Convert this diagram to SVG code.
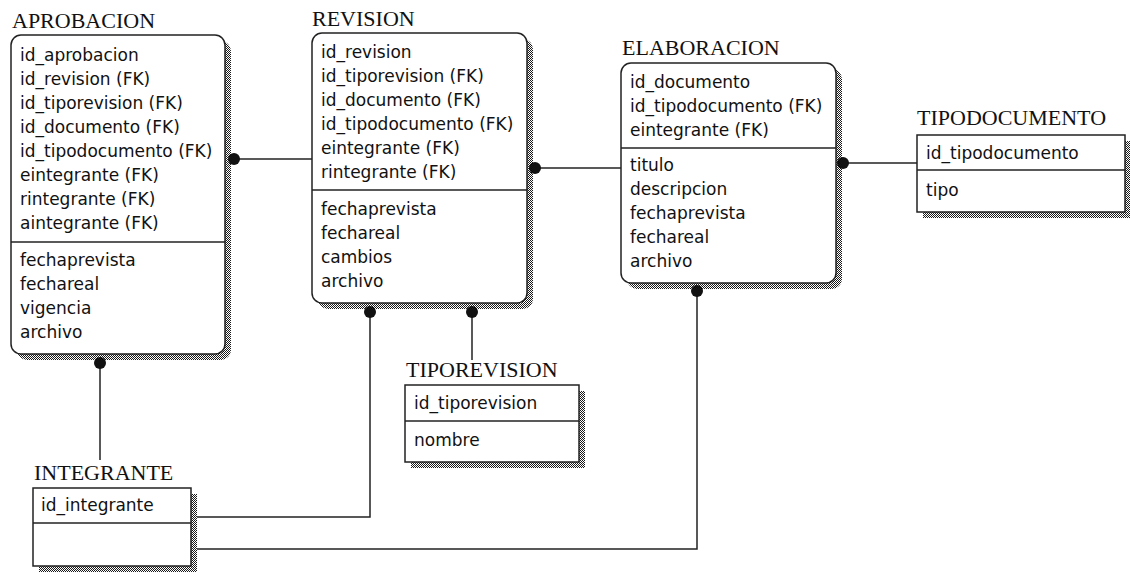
<svg xmlns="http://www.w3.org/2000/svg" width="1130" height="573" viewBox="0 0 1130 573">
  <defs>
    <!-- checkerboard dither used for drop shadows -->
    <pattern id="dither" width="2" height="2" patternUnits="userSpaceOnUse">
      <rect width="2" height="2" fill="#ffffff"/>
      <rect width="1" height="1" fill="#1a1a1a"/>
      <rect x="1" y="1" width="1" height="1" fill="#1a1a1a"/>
    </pattern>
    <style>
      .title { font-family: "Liberation Serif", "Times New Roman", serif; font-size: 22px; fill: #111; }
      .attr  { font-family: "DejaVu Sans", "Liberation Sans", sans-serif; font-size: 17px; fill: #111; }
      .box   { fill: #ffffff; stroke: #222; stroke-width: 1.5; }
      .shadow { fill: url(#dither); }
      .sep   { stroke: #222; stroke-width: 1.5; }
      .link  { fill: none; stroke: #222; stroke-width: 1.5; }
      .dot   { fill: #111; }
    </style>
  </defs>
  <rect width="1130" height="573" fill="#ffffff"/>

  <!-- relationships -->
  <g id="connectors">
    <path class="link" d="M234,159 H312"/>
    <path class="link" d="M535,168 H621"/>
    <path class="link" d="M843,163 H917"/>
    <path class="link" d="M472,312 V360"/>
    <path class="link" d="M370,312 V517 H191"/>
    <path class="link" d="M697,291 V549 H191"/>
    <path class="link" d="M100,363 V460"/>
  </g>

  <g id="aprobacion">
    <rect class="shadow" x="17" y="41" width="214" height="319" rx="10"/>
    <rect class="box" x="11" y="35" width="214" height="319" rx="10"/>
    <line class="sep" x1="11" y1="242" x2="225" y2="242"/>
    <text class="title" x="12" y="28">APROBACION</text>
    <text class="attr" x="20" y="61">id_aprobacion</text>
    <text class="attr" x="20" y="85">id_revision (FK)</text>
    <text class="attr" x="20" y="109">id_tiporevision (FK)</text>
    <text class="attr" x="20" y="133">id_documento (FK)</text>
    <text class="attr" x="20" y="157">id_tipodocumento (FK)</text>
    <text class="attr" x="20" y="181">eintegrante (FK)</text>
    <text class="attr" x="20" y="205">rintegrante (FK)</text>
    <text class="attr" x="20" y="229">aintegrante (FK)</text>
    <text class="attr" x="20" y="266">fechaprevista</text>
    <text class="attr" x="20" y="290">fechareal</text>
    <text class="attr" x="20" y="314">vigencia</text>
    <text class="attr" x="20" y="338">archivo</text>
  </g>

  <g id="revision">
    <rect class="shadow" x="318" y="39" width="215" height="270" rx="10"/>
    <rect class="box" x="312" y="33" width="215" height="270" rx="10"/>
    <line class="sep" x1="312" y1="190" x2="527" y2="190"/>
    <text class="title" x="312" y="26">REVISION</text>
    <text class="attr" x="321" y="58">id_revision</text>
    <text class="attr" x="321" y="82">id_tiporevision (FK)</text>
    <text class="attr" x="321" y="106">id_documento (FK)</text>
    <text class="attr" x="321" y="130">id_tipodocumento (FK)</text>
    <text class="attr" x="321" y="154">eintegrante (FK)</text>
    <text class="attr" x="321" y="178">rintegrante (FK)</text>
    <text class="attr" x="321" y="215">fechaprevista</text>
    <text class="attr" x="321" y="239">fechareal</text>
    <text class="attr" x="321" y="263">cambios</text>
    <text class="attr" x="321" y="287">archivo</text>
  </g>

  <g id="elaboracion">
    <rect class="shadow" x="627" y="69" width="215" height="220" rx="10"/>
    <rect class="box" x="621" y="63" width="215" height="220" rx="10"/>
    <line class="sep" x1="621" y1="148" x2="836" y2="148"/>
    <text class="title" x="622" y="55">ELABORACION</text>
    <text class="attr" x="630" y="88">id_documento</text>
    <text class="attr" x="630" y="112">id_tipodocumento (FK)</text>
    <text class="attr" x="630" y="136">eintegrante (FK)</text>
    <text class="attr" x="630" y="171">titulo</text>
    <text class="attr" x="630" y="195">descripcion</text>
    <text class="attr" x="630" y="219">fechaprevista</text>
    <text class="attr" x="630" y="243">fechareal</text>
    <text class="attr" x="630" y="267">archivo</text>
  </g>

  <g id="tipodocumento">
    <rect class="shadow" x="923" y="141" width="208" height="77"/>
    <rect class="box" x="917" y="135" width="208" height="77"/>
    <line class="sep" x1="917" y1="170" x2="1125" y2="170"/>
    <text class="title" x="917" y="125">TIPODOCUMENTO</text>
    <text class="attr" x="926" y="159">id_tipodocumento</text>
    <text class="attr" x="926" y="196">tipo</text>
  </g>

  <g id="tiporevision">
    <rect class="shadow" x="411" y="391" width="174" height="77"/>
    <rect class="box" x="405" y="385" width="174" height="77"/>
    <line class="sep" x1="405" y1="421" x2="579" y2="421"/>
    <text class="title" x="406" y="377">TIPOREVISION</text>
    <text class="attr" x="414" y="409">id_tiporevision</text>
    <text class="attr" x="414" y="446">nombre</text>
  </g>

  <g id="integrante">
    <rect class="shadow" x="39" y="494" width="158" height="78"/>
    <rect class="box" x="33" y="488" width="158" height="78"/>
    <line class="sep" x1="33" y1="523" x2="191" y2="523"/>
    <text class="title" x="34" y="480">INTEGRANTE</text>
    <text class="attr" x="41" y="511">id_integrante</text>
  </g>

  <!-- relationship end markers -->
  <g id="markers">
    <circle class="dot" cx="234" cy="159" r="6"/>
    <circle class="dot" cx="535" cy="168" r="6"/>
    <circle class="dot" cx="843" cy="163" r="6"/>
    <circle class="dot" cx="370" cy="312" r="6"/>
    <circle class="dot" cx="472" cy="312" r="6"/>
    <circle class="dot" cx="697" cy="291" r="6"/>
    <circle class="dot" cx="100" cy="363" r="6"/>
  </g>
</svg>
